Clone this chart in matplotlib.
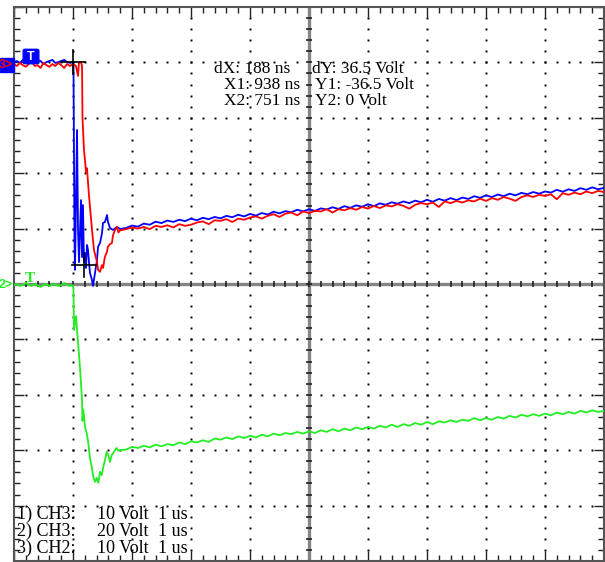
"""Oscilloscope capture: three channels, 1 us/div"""

import matplotlib
matplotlib.use('Agg')
import matplotlib.pyplot as plt
import numpy as np
from matplotlib.patches import Rectangle, FancyBboxPatch

W, H = 605, 562

# channel setup: volts per division and ground level (divisions from centre)
ch_labels = ['1) CH3:', '2) CH3:', '3) CH2:']
ch_vdiv = [10, 20, 10]
ch_volt_text = ['10 Volt', '20 Volt', '10 Volt']
ch_time_text = ['1 us', '1 us', '1 us']
ch_ground = [4.0, 4.0, 0.0]

# cursor readout (scope time in ns, red channel volts)
cursor_x_ns = [938, 751]
cursor_y_v = [-36.5, 0.0]
trigger_ns = 751
readout_left = ['dX: 188 ns', 'X1: 938 ns', 'X2: 751 ns']
readout_right = ['dY: 36.5 Volt', 'Y1: -36.5 Volt', 'Y2: 0 Volt']

# sample times before the trigger and in the slow recovery (us)
base_t = np.round(np.arange(-20, 1) * 0.05, 2)
tail_t = np.round(np.arange(9, 91) * 0.1, 1)

# red trace, volts
red_base = [-0.3, -0.65, -0.1, -0.5, -0.8, -0.3, 0.1, -0.65, -0.5, -1.0, -0.1,
            -0.5, -0.8, -0.3, -0.65, -0.1, -0.5, -1.0, -0.3, -0.65, -0.3]
red_edge_t = [0.05, 0.085, 0.10, 0.136, 0.153, 0.161, 0.186, 0.203, 0.22, 0.237,
              0.254, 0.27, 0.288, 0.322, 0.356, 0.39, 0.407, 0.424, 0.458, 0.49,
              0.51, 0.54, 0.576, 0.59, 0.627, 0.66, 0.678, 0.71, 0.746, 0.77, 0.8]
red_edge = [-0.65, -2.45, -0.1, 0.07, -0.65, -10.0, -15.8, -17.6, -19.8, -19.1,
            -21.6, -23.9, -26.1, -30.2, -33.9, -35.3, -36.0, -37.4, -37.8, -36.6,
            -37.1, -35.1, -34.2, -33.3, -32.8, -32.6, -31.2, -30.3, -29.7, -30.7, -30.3]
red_tail = [-30.1, -29.8, -30.0, -29.7, -30.1, -29.5, -29.7, -29.4, -29.8, -29.2,
            -29.5, -29.3, -28.9, -28.7, -29.2, -28.5, -28.6, -28.3, -28.8, -28.2,
            -28.4, -28.0, -27.8, -28.2, -27.7, -27.4, -27.9, -27.3, -27.1, -27.6,
            -26.9, -27.2, -26.8, -26.9, -26.5, -27.1, -26.5, -26.7, -26.3, -26.6,
            -26.1, -26.4, -25.9, -26.3, -25.8, -26.0, -25.6, -25.9, -26.4, -25.7,
            -25.4, -25.6, -25.3, -26.1, -25.1, -25.4, -25.0, -25.3, -24.9, -25.1,
            -24.6, -25.0, -24.5, -24.8, -24.3, -24.6, -25.0, -24.3, -24.0, -24.3,
            -23.9, -24.1, -23.8, -24.7, -23.6, -23.9, -23.5, -23.8, -23.3, -23.6,
            -23.2, -23.4]

# blue trace, volts
blue_base = [0.1, 0.5, -0.2, 0.9, 0.1, 0.5, -0.2, 0.1, 0.9, 0.5, -0.6,
             0.1, 0.5, 0.9, -0.2, 0.1, 0.5, 0.9, 0.1, -0.2, 0.1]
blue_edge_t = [0.008, 0.017, 0.025, 0.034, 0.051, 0.068, 0.085, 0.102, 0.119, 0.136,
               0.153, 0.169, 0.186, 0.203, 0.22, 0.237, 0.254, 0.271, 0.288, 0.322,
               0.339, 0.373, 0.407, 0.424, 0.458, 0.492, 0.508, 0.542, 0.576, 0.593,
               0.627, 0.678, 0.746, 0.8]
blue_edge = [-0.6, -31.6, -64.1, -74.9, -49.7, -24.4, -60.5, -72.1, -60.5, -49.7,
             -70.3, -51.5, -72.1, -68.8, -74.2, -65.9, -67.7, -72.1, -76.0, -78.6,
             -80.7, -76.0, -71.3, -66.6, -65.2, -61.6, -58.0, -57.6, -55.1, -57.6,
             -59.8, -60.5, -59.4, -60.1]
blue_tail = [-59.8, -58.9, -59.3, -58.2, -58.6, -57.5, -58.0, -57.1, -57.6, -56.8,
             -57.3, -56.4, -57.0, -56.1, -56.6, -55.8, -56.3, -55.4, -55.9, -55.0,
             -55.6, -54.7, -55.3, -54.4, -54.9, -53.9, -54.5, -53.7, -54.1, -53.2,
             -53.8, -53.0, -53.6, -52.7, -53.1, -52.3, -52.9, -51.9, -52.5, -51.6,
             -52.1, -51.2, -51.9, -50.9, -51.4, -50.5, -51.0, -50.2, -50.8, -49.9,
             -50.5, -49.6, -50.3, -49.3, -49.9, -49.0, -49.7, -48.8, -49.3, -48.3,
             -48.9, -48.0, -48.6, -47.7, -48.3, -47.4, -48.0, -47.1, -47.6, -46.8,
             -47.4, -46.6, -47.0, -46.0, -46.7, -45.8, -46.4, -45.4, -46.0, -45.1,
             -45.8, -45.3]

# green trace, volts
green_base = [-0.2, 0.0, -0.35, -0.2, 0.2, -0.2, -0.35, 0.0, -0.2, -0.55, -0.2,
              0.0, -0.35, -0.2, 0.0, -0.35, -0.2, 0.2, -0.2, -0.35, -0.2]
green_edge_t = [0.008, 0.017, 0.034, 0.051, 0.068, 0.085, 0.102, 0.119, 0.136, 0.153,
                0.161, 0.175, 0.203, 0.232, 0.259, 0.288, 0.317, 0.344, 0.373, 0.402,
                0.429, 0.458, 0.486, 0.514, 0.542, 0.571, 0.598, 0.627, 0.656, 0.683,
                0.712, 0.741, 0.771, 0.8]
green_edge = [-1.1, -8.3, -6.9, -5.8, -8.3, -10.5, -12.8, -15.2, -18.2, -20.9,
              -24.7, -22.7, -25.8, -26.9, -28.7, -31.4, -33.0, -34.8, -35.7, -35.0,
              -35.9, -33.9, -34.5, -33.0, -31.8, -30.3, -30.9, -32.1, -30.9, -30.5,
              -30.0, -29.6, -30.1, -30.0]
green_tail = [-29.9, -29.4, -29.6, -29.2, -29.5, -29.0, -29.3, -28.9, -29.1, -28.6,
              -28.9, -28.4, -28.6, -28.2, -28.5, -27.9, -28.1, -27.7, -28.0, -27.5,
              -27.8, -27.4, -27.7, -27.2, -27.5, -27.0, -27.3, -26.9, -27.1, -26.7,
              -27.0, -26.6, -26.9, -26.4, -26.7, -26.2, -26.6, -26.1, -26.4, -25.9,
              -26.2, -25.8, -26.1, -25.6, -25.9, -25.4, -25.8, -25.3, -25.6, -25.1,
              -25.4, -24.9, -25.3, -24.8, -25.0, -24.6, -24.9, -24.5, -24.7, -24.2,
              -24.6, -24.2, -24.5, -24.0, -24.3, -23.8, -24.1, -23.6, -23.9, -23.5,
              -23.8, -23.4, -23.7, -23.2, -23.5, -23.1, -23.4, -22.9, -23.2, -22.8,
              -23.1, -22.9]


def fig_xy(x, y):
    return x / W, 1 - y / H


fig = plt.figure(figsize=(W / 100, H / 100), dpi=100)
ax = fig.add_axes([14 / W, 1 - 561 / H, 590 / W, 554 / H])
ax.set_xlim(-1, 9)
ax.set_ylim(-5, 5)

# frame with inward ticks
ax.set_xticks(np.arange(-1, 10))
ax.set_yticks(np.arange(-5, 6))
ax.set_xticks(np.linspace(-1, 9, 51), minor=True)
ax.set_yticks(np.linspace(-5, 5, 51), minor=True)
ax.tick_params(which='both', direction='in', top=True, right=True,
               labelbottom=False, labelleft=False, color='#222222')
ax.tick_params(which='major', length=7, width=1)
ax.tick_params(which='minor', length=4, width=1)
for sp in ax.spines.values():
    sp.set_color('#555555')
    sp.set_linewidth(1.5)

# dotted graticule
xs = np.linspace(-1, 9, 51)
ys = np.linspace(-5, 5, 51)
for k in range(0, 9):
    if k == 4:
        continue
    ax.plot(np.full(49, k), ys[1:-1], ls='none', marker='s', ms=1.4,
            color='black', mew=0)
for j in range(-4, 5):
    if j == 0:
        continue
    ax.plot(xs[1:-1], np.full(49, j), ls='none', marker='s', ms=1.4,
            color='black', mew=0)

# centre cross with ticks
ax.axhline(0, color='#858585', lw=2.4, zorder=2)
ax.axvline(4, color='#858585', lw=2.4, zorder=2)
ax.plot(xs, np.zeros_like(xs), ls='none', marker='|', ms=5, mew=1.2,
        color='#222222', zorder=2.1)
ax.plot(np.full_like(ys, 4), ys, ls='none', marker='_', ms=5, mew=1.2,
        color='#222222', zorder=2.1)

# traces
red_t = np.concatenate([base_t, red_edge_t, tail_t])
red_v = np.concatenate([red_base, red_edge, red_tail])
blue_t = np.concatenate([base_t, blue_edge_t, tail_t])
blue_v = np.concatenate([blue_base, blue_edge, blue_tail])
green_t = np.concatenate([base_t, green_edge_t, tail_t])
green_v = np.concatenate([green_base, green_edge, green_tail])

ax.plot(green_t, ch_ground[2] + green_v / ch_vdiv[2], color='#22ee22', lw=1.3, zorder=3)
ax.plot(blue_t, ch_ground[1] + blue_v / ch_vdiv[1], color='#0000ff', lw=1.3, zorder=3)
ax.plot(red_t, ch_ground[0] + red_v / ch_vdiv[0], color='#ff0000', lw=1.3, zorder=3.1)

# cursor crosses
dx_half = 12 / 59
dy_half = 12 / 55.4
for cx, cy in zip(cursor_x_ns, cursor_y_v):
    x = (cx - trigger_ns) / 1000
    y = ch_ground[0] + cy / ch_vdiv[0]
    ax.plot([x - dx_half, x + dx_half], [y, y], color='black', lw=1.2, zorder=4)
    ax.plot([x, x], [y - dy_half, y + dy_half], color='black', lw=1.2, zorder=4)

# cursor readout text
serif = 'Liberation Serif'
fs = 13
fs_cur = 12.5
for s, (x, y) in zip(readout_left, [(214, 73), (224, 89), (224, 105)]):
    fig.text(*fig_xy(x, y), s, family=serif, fontsize=fs_cur, va='baseline')
for s, (x, y) in zip(readout_right, [(312, 73), (315, 89), (315, 105)]):
    fig.text(*fig_xy(x, y), s, family=serif, fontsize=fs_cur, va='baseline')

# channel settings text
for i, yb in enumerate([519, 536, 553]):
    fig.text(*fig_xy(17, yb), ch_labels[i], family=serif, fontsize=fs, va='baseline')
    fig.text(*fig_xy(97, yb), ch_volt_text[i], family=serif, fontsize=fs, va='baseline')
    fig.text(*fig_xy(158, yb), ch_time_text[i], family=serif, fontsize=fs, va='baseline')

# channel markers on the left edge
fig.patches.append(Rectangle(fig_xy(0, 72), 14 / W, 14 / H, transform=fig.transFigure,
                             color='#0000ff', zorder=5))
fig.text(*fig_xy(-1, 65), '3>', color='#ff0000', fontsize=9, weight='bold',
         family='Liberation Sans', va='center', zorder=6)
fig.patches.append(FancyBboxPatch(fig_xy(25, 62), 12 / W, 11 / H,
                                  boxstyle='round,pad=0.003', transform=fig.transFigure,
                                  color='#0000ff', zorder=5))
fig.text(*fig_xy(31, 57), 'T', color='white', fontsize=9, weight='bold',
         family='Liberation Sans', va='center', ha='center', zorder=6)
fig.text(*fig_xy(-1, 285), '2>', color='#22ee22', fontsize=9, weight='bold',
         family='Liberation Sans', va='center', zorder=6)
fig.text(*fig_xy(30, 279), 'T', color='#22ee22', fontsize=11, weight='bold',
         family='Liberation Serif', va='center', ha='center', zorder=6)

fig.savefig('out.png', dpi=100)
